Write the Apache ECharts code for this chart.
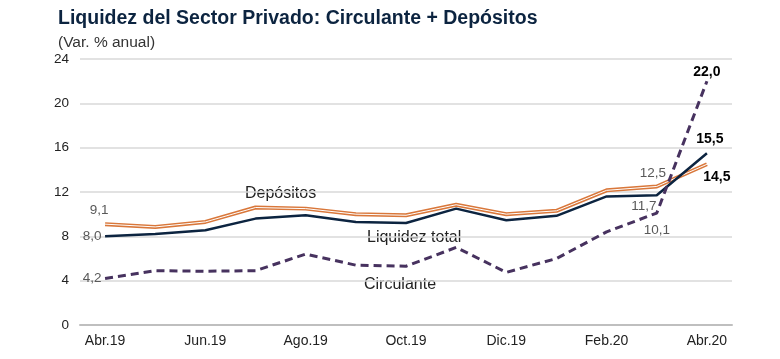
<!DOCTYPE html>
<html><head><meta charset="utf-8">
<script src="https://cdn.jsdelivr.net/npm/echarts@6/dist/echarts.min.js"></script>
<style>html,body{margin:0;padding:0;background:#fff}#c{width:780px;height:359px}</style>
</head><body><div id="c"></div>
<script>
var categories = ['Abr.19','May.19','Jun.19','Jul.19','Ago.19','Sep.19','Oct.19','Nov.19','Dic.19','Ene.20','Feb.20','Mar.20','Abr.20'];
var liquidez = [8.0, 8.2, 8.55, 9.6, 9.9, 9.3, 9.2, 10.5, 9.45, 9.85, 11.6, 11.7, 15.5];
var depositos = [9.1, 8.85, 9.3, 10.6, 10.5, 10.0, 9.9, 10.85, 10.0, 10.3, 12.15, 12.5, 14.5];
var circulante = [4.2, 4.9, 4.85, 4.9, 6.4, 5.4, 5.3, 7.0, 4.75, 6.0, 8.4, 10.1, 22.0];
var yTicks = [0, 4, 8, 12, 16, 20, 24];

var FF = 'Liberation Sans, Arial, sans-serif';
function fmt(v){ return v.toFixed(1).replace('.', ','); }
function withLabels(arr, specs){
  return arr.map(function(v,i){
    if(!specs[i]) return v;
    var s = specs[i];
    return {value:v, label:Object.assign({show:true, formatter:fmt(v), fontFamily:FF, fontSize:13.5, color:'#595959'}, s)};
  });
}
var chart = echarts.init(document.getElementById('c'), null, {renderer:'canvas'});
var last = categories.length-1, mar = categories.length-2;
var liqSpec = {}; liqSpec[0] = {position:'left', distance:3};
liqSpec[mar] = {position:'bottom', offset:[-13,0], distance:3};
liqSpec[last] = {position:'top', offset:[3,-2], color:'#000', fontWeight:'bold', fontSize:14};
var depSpec = {}; depSpec[0] = {position:'top', offset:[-6,-1]};
depSpec[mar] = {position:'top', offset:[-4,-1]};
depSpec[last] = {position:'bottom', offset:[10,0], color:'#000', fontWeight:'bold', fontSize:14};
var cirSpec = {}; cirSpec[0] = {position:'left', distance:3, offset:[0,0]};
cirSpec[mar] = {position:'bottom', offset:[0,5]};
cirSpec[last] = {position:'top', offset:[0,3], color:'#000', fontWeight:'bold', fontSize:14};

var sym = {symbol:'circle', symbolSize:1, showSymbol:true, itemStyle:{color:'rgba(0,0,0,0)', borderWidth:0}};
chart.setOption({
  animation:false,
  textStyle:{fontFamily:FF},
  grid:{left:80, right:48, top:59, bottom:34, containLabel:false},
  xAxis:{type:'category', data:categories, boundaryGap:true,
    axisLine:{lineStyle:{color:'#bfbfbf', width:2}}, axisTick:{show:false},
    axisLabel:{interval:1, color:'#222', fontSize:14, margin:9}},
  yAxis:{type:'value', min:yTicks[0], max:yTicks[yTicks.length-1], interval:4,
    axisLine:{show:false}, axisTick:{show:false},
    axisLabel:{color:'#222', fontSize:13.5, margin:11},
    splitLine:{lineStyle:{color:'#d9d9d9', width:1.5}}},
  series:[
    Object.assign({name:'Depósitos', type:'line', data:withLabels(depositos, depSpec), z:2,
      lineStyle:{color:'#d9773a', width:4}}, sym),
    {name:'DepósitosInner', type:'line', data:depositos, symbol:'none', z:3, silent:true,
      lineStyle:{color:'#ffffff', width:1}},
    Object.assign({name:'Liquidez total', type:'line', data:withLabels(liquidez, liqSpec), z:4,
      lineStyle:{color:'#0c2440', width:2.5}}, sym),
    Object.assign({name:'Circulante', type:'line', data:withLabels(circulante, cirSpec), z:5,
      lineStyle:{color:'#47325f', width:3, type:[8,5]}}, sym)
  ],
  graphic:[
    {type:'text', left:58, top:9, style:{text:'Liquidez del Sector Privado: Circulante + Depósitos', font:'bold 19.5px '+FF, fill:'#0c2440'}},
    {type:'text', left:58, top:35, style:{text:'(Var. % anual)', font:'15.5px '+FF, fill:'#333'}},
    {type:'text', left:245, top:186, style:{text:'Depósitos', font:'16px '+FF, fill:'#222'}},
    {type:'text', left:367, top:230, style:{text:'Liquidez total', font:'16px '+FF, fill:'#222'}},
    {type:'text', left:364, top:277, style:{text:'Circulante', font:'16px '+FF, fill:'#222'}}
  ]
});
</script></body></html>
